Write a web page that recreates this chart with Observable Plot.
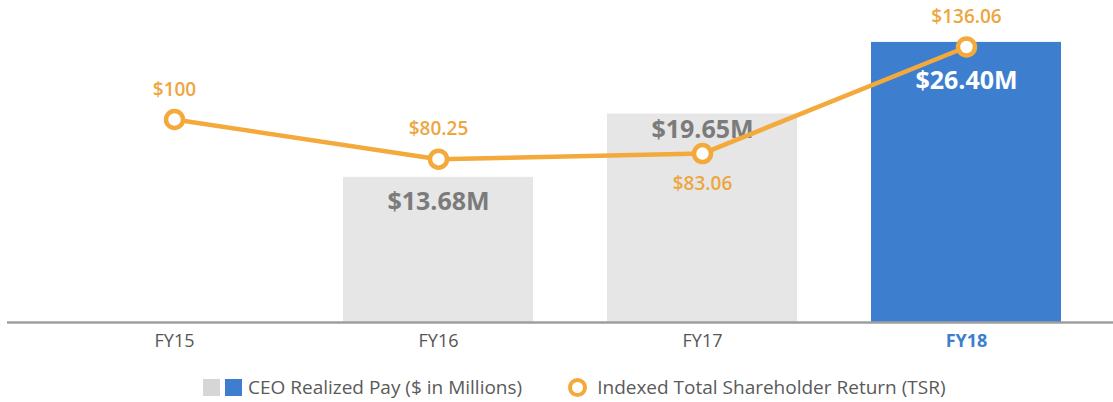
<!DOCTYPE html>
<html>
<head>
<meta charset="utf-8">
<script src="https://cdn.jsdelivr.net/npm/d3@7"></script>
<script src="https://cdn.jsdelivr.net/npm/@observablehq/plot@0.6"></script>
<style>
  html, body { margin: 0; padding: 0; background: #fff; }
  body { width: 1113px; height: 402px; overflow: hidden; font-family: "Open Sans", sans-serif; }
  #wrap { position: relative; width: 1113px; height: 360px; }
  #wrap svg { position: absolute; left: 0; top: 0; }
  #legend { position: absolute; top: 374px; left: 203px; display: flex; align-items: center; font-size: 19px; line-height: 26px; color: #5a5a5a; white-space: nowrap; }
  .sw { display: inline-block; width: 17px; height: 17px; margin-right: 5px; }
  .circ { display: inline-block; width: 11px; height: 11px; border: 4px solid #f4a93b; border-radius: 50%; margin-right: 10px; box-sizing: content-box; }
</style>
</head>
<body>
<div id="wrap"></div>
<div id="legend">
  <span class="sw" style="background:#d6d6d6"></span><span class="sw" style="background:#3d7fce;margin-right:6px"></span>
  <span style="margin-right:46px">CEO Realized Pay ($ in Millions)</span>
  <span class="circ"></span><span>Indexed Total Shareholder Return (TSR)</span>
</div>
<script>
const years = ["FY15", "FY16", "FY17", "FY18"];
const payValues = [null, 13.68, 19.65, 26.40];
const payLabels = ["", "$13.68M", "$19.65M", "$26.40M"];
const tsrValues = [100, 80.25, 83.06, 136.06];
const tsrLabels = ["$100", "$80.25", "$83.06", "$136.06"];

const pay = years.map((year, i) => ({year, value: payValues[i], label: payLabels[i]})).filter(d => d.value != null);
const tsr = years.map((year, i) => ({year, value: tsrValues[i], label: tsrLabels[i]}));

const W = 1113, H = 360;
const gray = "#e6e6e6", blue = "#3d7fce", orange = "#f4a93b", orangeText = "#eda640";
const xScale = {type: "band", domain: years, range: [41, 1098.3], paddingInner: 0.28, paddingOuter: 0.14};

const bars = Plot.plot({
  width: W, height: H,
  marginLeft: 7, marginRight: 0, marginTop: 0, marginBottom: 38,
  style: {fontFamily: "Open Sans, sans-serif", background: "transparent", overflow: "visible"},
  x: {...xScale, axis: null},
  y: {domain: [0, 30.35], axis: null},
  marks: [
    Plot.barY(pay, {x: "year", y: "value", fill: d => d.year === "FY18" ? blue : gray}),
    Plot.ruleY([0], {stroke: "#9e9e9e", strokeWidth: 2.5}),
    Plot.text(pay, {filter: d => d.year === "FY16", x: "year", y: "value", text: "label", dy: 25, fill: "#7b7b7b", fontSize: 25, fontWeight: "bold"}),
    Plot.text(pay, {filter: d => d.year === "FY17", x: "year", y: "value", text: "label", dy: 16, fill: "#7b7b7b", fontSize: 25, fontWeight: "bold"}),
    Plot.text(pay, {filter: d => d.year === "FY18", x: "year", y: "value", text: "label", dy: 39, fill: "#ffffff", fontSize: 25, fontWeight: "bold"}),
    Plot.text(years, {filter: d => d !== "FY18", x: d => d, frameAnchor: "bottom", dy: 24, text: d => d, fill: "#555", fontSize: 18}),
    Plot.text(years, {filter: d => d === "FY18", x: d => d, frameAnchor: "bottom", dy: 24, text: d => d, fill: blue, fontSize: 18, fontWeight: "bold"})
  ]
});

const line = Plot.plot({
  width: W, height: H,
  marginLeft: 7, marginRight: 0, marginTop: 0, marginBottom: 40,
  style: {fontFamily: "Open Sans, sans-serif", background: "transparent", overflow: "visible"},
  x: {...xScale, axis: null},
  y: {domain: [0, 159.2], axis: null},
  marks: [
    Plot.line(tsr, {x: "year", y: "value", stroke: orange, strokeWidth: 4.5}),
    Plot.dot(tsr, {x: "year", y: "value", r: 8.5, fill: "#fff", stroke: orange, strokeWidth: 4.5}),
    Plot.text(tsr, {filter: d => d.year !== "FY17", x: "year", y: "value", text: "label", dy: -30, fill: orangeText, fontSize: 19, fontWeight: 600}),
    Plot.text(tsr, {filter: d => d.year === "FY17", x: "year", y: "value", text: "label", dy: 30, fill: orangeText, fontSize: 19, fontWeight: 600})
  ]
});

document.getElementById("wrap").append(bars, line);
</script>
</body>
</html>
